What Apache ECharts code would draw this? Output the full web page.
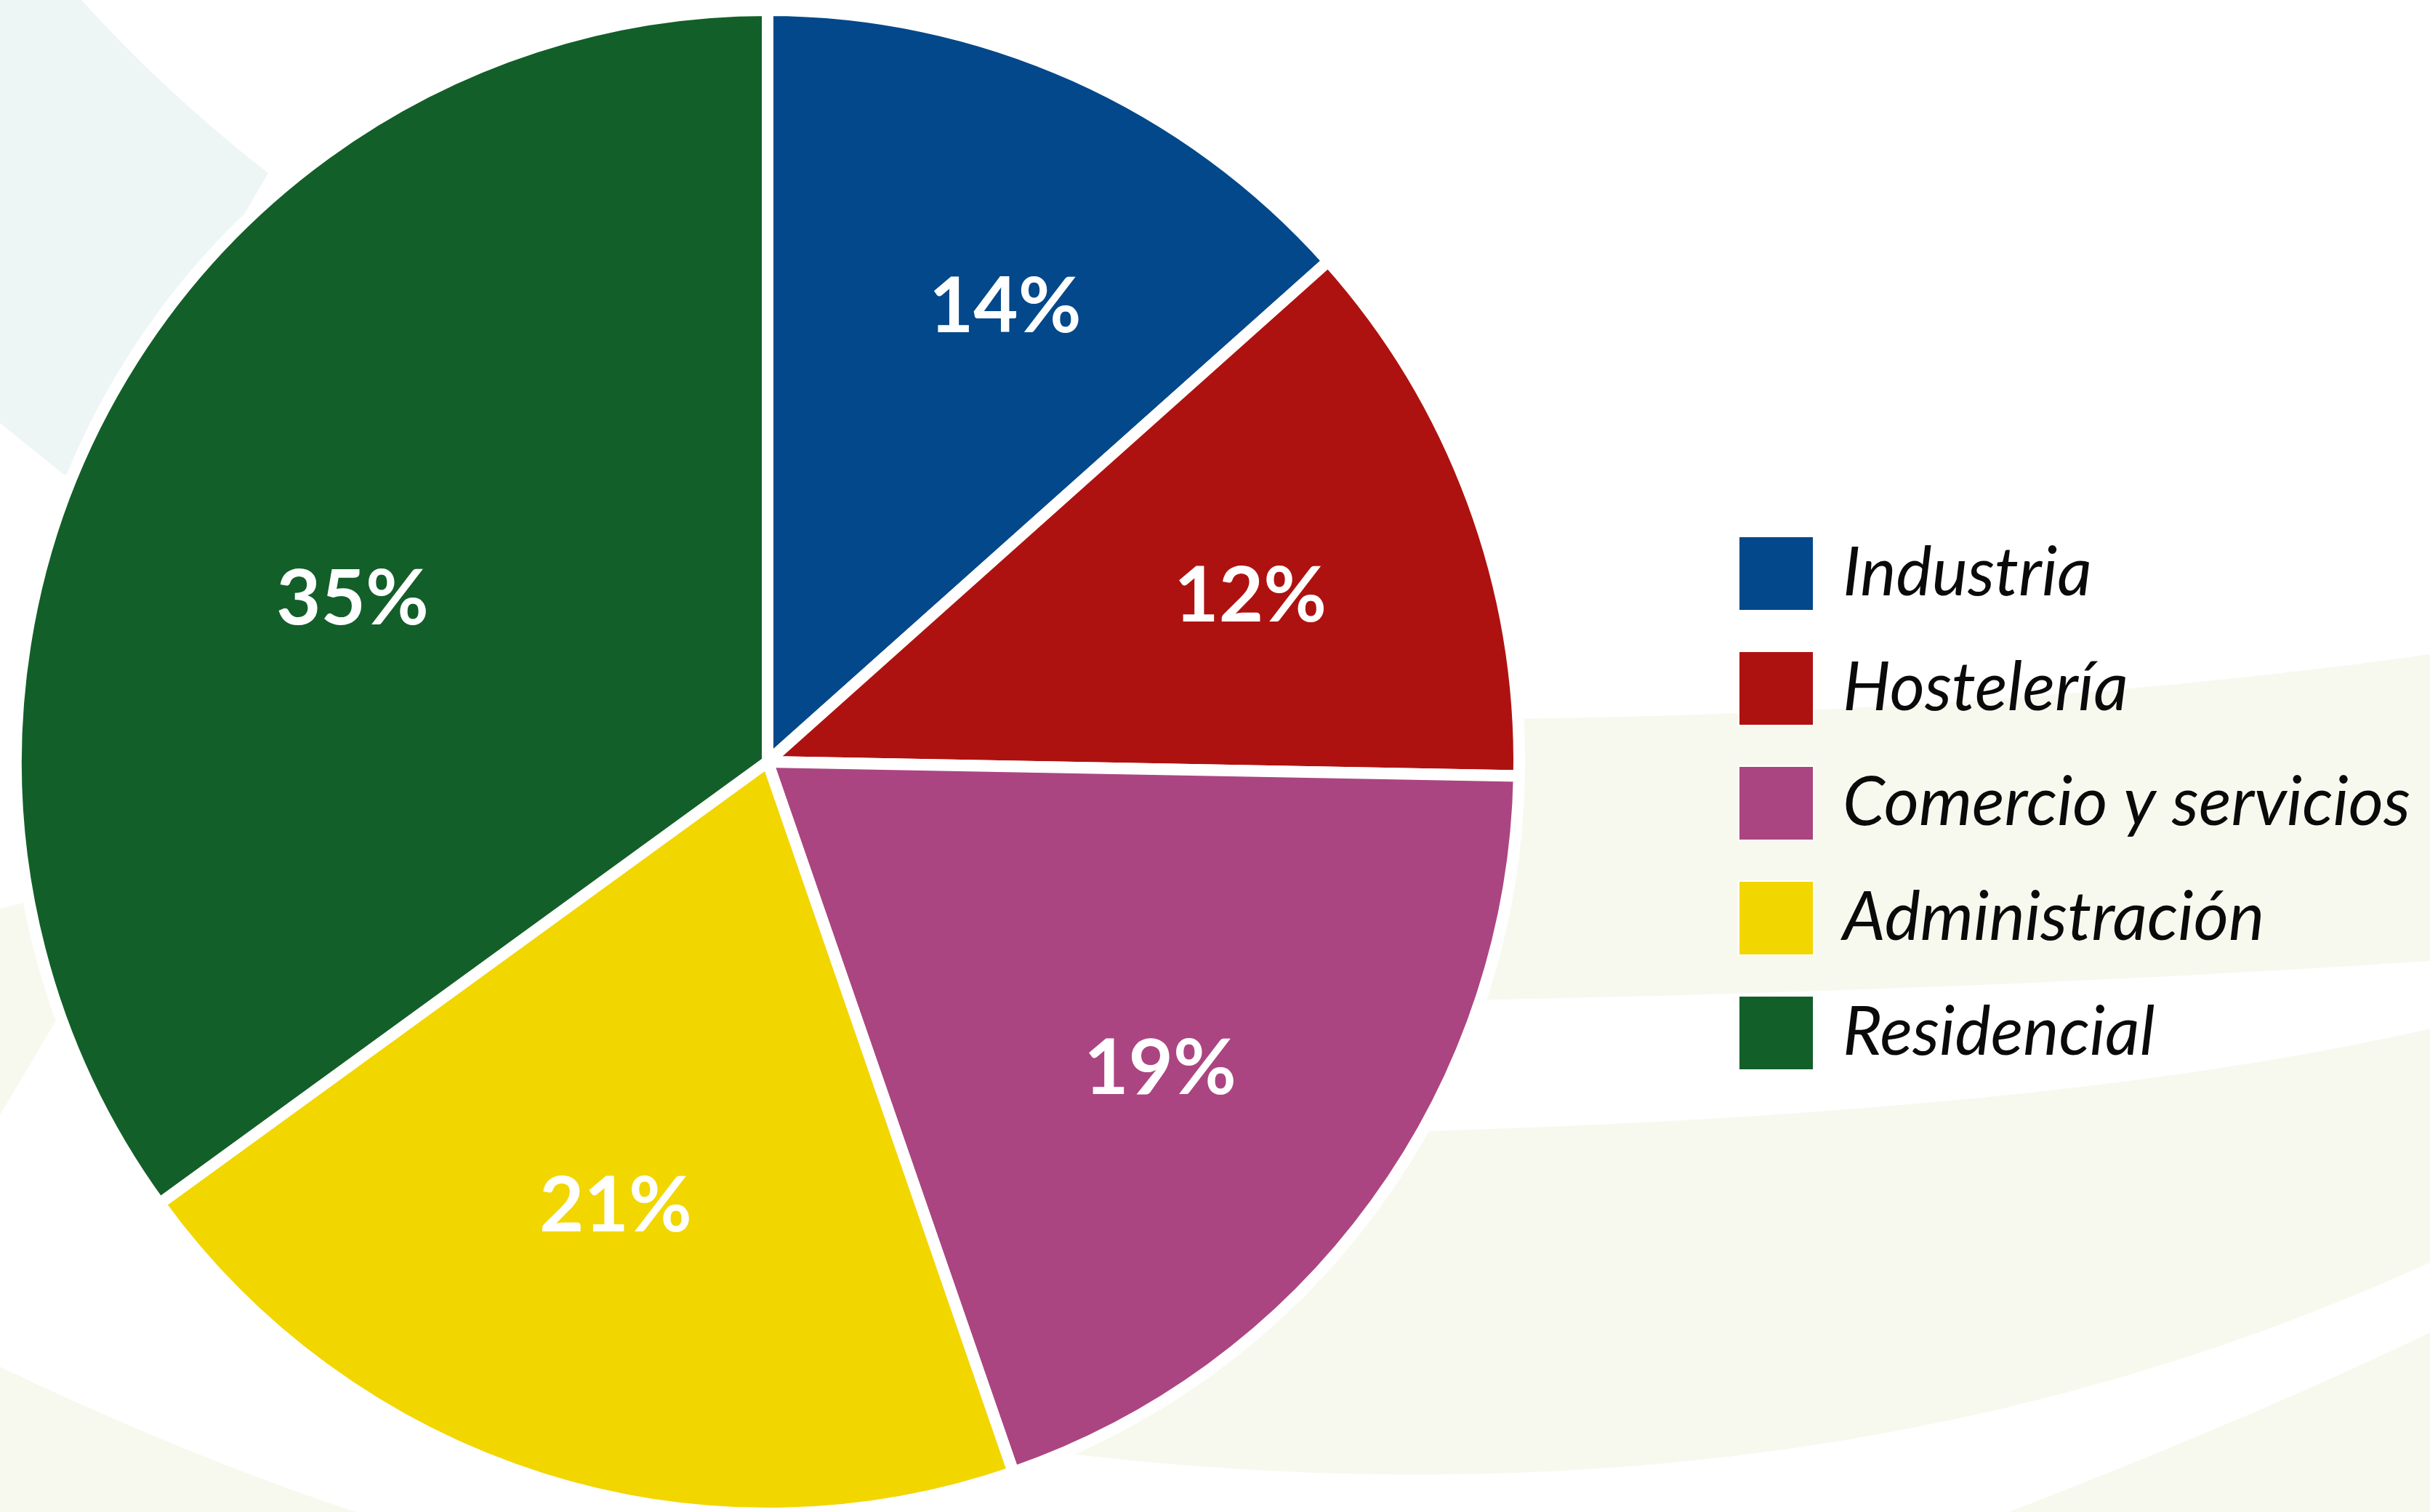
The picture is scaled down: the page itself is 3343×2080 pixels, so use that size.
<!DOCTYPE html>
<html>
<head>
<meta charset="utf-8">
<script src="https://cdn.jsdelivr.net/npm/echarts@6/dist/echarts.min.js"></script>
<style>
  html, body { margin: 0; padding: 0; background: #ffffff; }
  #chart { width: 3343px; height: 2080px; }
</style>
</head>
<body>
<div id="chart"></div>
<script>
// sectores y porcentajes
var categories = ['Industria', 'Hostelería', 'Comercio y servicios', 'Administración', 'Residencial'];
// share of the circle each slice takes
var sliceShares = [13.4, 11.9, 19.4, 20.3, 35.0];
// percentages printed on the slices
var labelTexts = ['14%', '12%', '19%', '21%', '35%'];
var sliceColors = ['#03488a', '#ae1210', '#ab4581', '#f2d600', '#135f29'];
// small nudges so the labels sit where the original put them
var labelNudge = [[53, -14], [36, 6], [-2, 29], [-8, -27], [26, 81]];

var chart = echarts.init(document.getElementById('chart'));

var pieCenter = [1056, 1048],
    pieRadius = 1034;

var mainData = categories.map(function (name, i) {
    return { name: name, value: sliceShares[i], itemStyle: { color: sliceColors[i] } };
});

var labelData = categories.map(function (name, i) {
    return { name: name, value: sliceShares[i], label: { offset: labelNudge[i] } };
});

// faint decorative swooshes behind the chart.
// each shape: list of segments, a point [x,y] or a quadratic curve {c:[x,y], to:[x,y]}
function outline(segs) {
    var pts = [], last = null;
    segs.forEach(function (s) {
        if (Array.isArray(s)) {
            pts.push(s); last = s;
        } else {
            for (var t = 1; t <= 24; t++) {
                var u = t / 24, a = (1 - u) * (1 - u), b = 2 * u * (1 - u), c = u * u;
                pts.push([a * last[0] + b * s.c[0] + c * s.to[0], a * last[1] + b * s.c[1] + c * s.to[1]]);
            }
            last = s.to;
        }
    });
    return pts;
}

var cream = '#f8f9ee';
var bgShapes = [
    { fill: '#eef6f5', segs: [[0, 0], [112, 0], { c: [230, 130], to: [369, 238] }, [337, 293], [400, 600], [88, 653], [0, 582]] },
    { fill: cream, segs: [[1900, 990], { c: [2700, 990], to: [3343, 900] }, [3343, 1322], { c: [2700, 1365], to: [1900, 1378] }] },
    { fill: cream, segs: [[1800, 1560], { c: [2800, 1540], to: [3343, 1415] }, [3343, 1737], { c: [2500, 2120], to: [1470, 2000] }] },
    { fill: cream, segs: [[2763, 2080], { c: [3100, 1950], to: [3343, 1833] }, [3343, 2080]] },
    { fill: cream, segs: [[0, 1880], { c: [250, 2000], to: [490, 2080] }, [0, 2080]] },
    { fill: cream, segs: [[0, 1250], [200, 1200], [250, 1500], [77, 1404], [0, 1534]] }
];

var option = {
    backgroundColor: '#ffffff',
    animation: false,
    graphic: bgShapes.map(function (s) {
        return {
            type: 'polygon',
            z: -10,
            silent: true,
            shape: { points: outline(s.segs) },
            style: { fill: s.fill }
        };
    }),
    legend: {
        orient: 'vertical',
        left: 2391,
        top: 737,
        padding: 0,
        itemWidth: 103,
        itemHeight: 102,
        itemGap: 54,
        icon: 'rect',
        data: categories,
        textStyle: {
            fontFamily: 'Lato',
            fontStyle: 'italic',
            fontSize: 93,
            color: '#0a0a0a',
            padding: [0, 0, 12, 35]
        }
    },
    series: [
        {
            name: 'sectores',
            type: 'pie',
            center: pieCenter,
            radius: pieRadius,
            startAngle: 90,
            clockwise: true,
            avoidLabelOverlap: false,
            label: { show: false },
            labelLine: { show: false },
            emphasis: { disabled: true },
            itemStyle: {
                borderColor: '#ffffff',
                borderWidth: 16
            },
            data: mainData
        },
        {
            // transparent ring, only to place the percentage labels further out
            name: 'etiquetas',
            type: 'pie',
            center: pieCenter,
            radius: [300, pieRadius],
            startAngle: 90,
            clockwise: true,
            silent: true,
            avoidLabelOverlap: false,
            itemStyle: { color: 'rgba(0,0,0,0)', borderWidth: 0 },
            emphasis: { disabled: true },
            labelLine: { show: false },
            label: {
                show: true,
                position: 'inside',
                fontFamily: 'Lato',
                fontWeight: 'bold',
                fontSize: 106,
                color: '#ffffff',
                textBorderWidth: 0,
                formatter: function (p) {
                    return labelTexts[p.dataIndex];
                }
            },
            data: labelData
        }
    ]
};

chart.setOption(option);
</script>
</body>
</html>
